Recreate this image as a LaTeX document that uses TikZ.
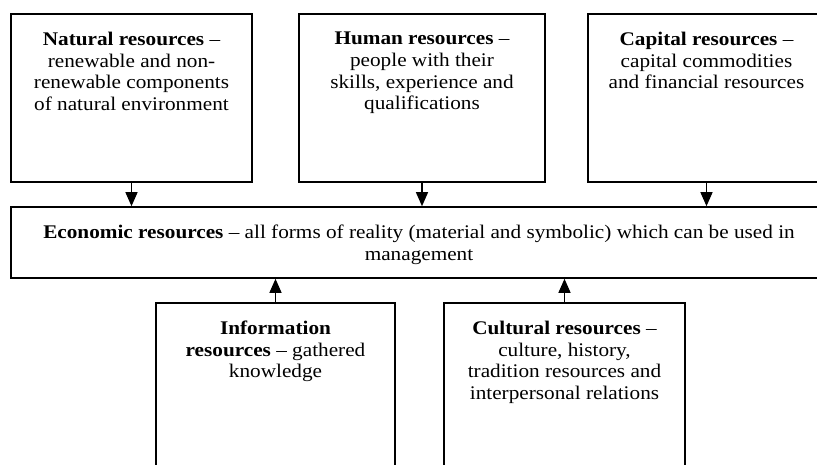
\documentclass[tikz,border=0pt]{standalone}
\usepackage{fontspec}
\setmainfont{Liberation Serif}[FakeStretch=1.1]
\usetikzlibrary{arrows.meta}

\newcommand{\restext}[3]{\parbox[c][#1][t]{#2}{\centering\vspace*{18pt}#3}}

\tikzset{
	resbox/.style={draw, line width=1.6pt, inner sep=0pt, font=\fontsize{19.3pt}{21.7pt}\selectfont},
	resarrow/.style={-{Triangle[length=14pt,width=12pt]}, line width=1.3pt}
}

\begin{document}
\begin{tikzpicture}[x=1pt, y=-1pt]
	\useasboundingbox (0,0) rectangle (817,465);
	\clip (0,0) rectangle (817,465);
	\node[resbox] (natural) at (131.5,98) {\restext{168pt}{241pt}{\textbf{Natural resources} --\\ renewable and non-\\ renewable components\\ of natural environment}};
	\node[resbox] (human) at (422,98) {\restext{168pt}{246pt}{\textbf{Human resources} --\\ people with their\\ skills, experience and\\ qualifications}};
	\node[resbox] (capital) at (706.5,98) {\restext{168pt}{237pt}{\textbf{Capital resources} --\\ capital commodities\\ and financial resources}};
	\node[resbox] (economic) at (419,242.5) {\restext{71pt}{816pt}{\textbf{Economic resources} -- all forms of reality (material and symbolic) which can be used in\\ management}};
	\node[resbox] (information) at (275.5,387) {\restext{168pt}{239pt}{\textbf{Information}\\ \textbf{resources} -- gathered\\ knowledge}};
	\node[resbox] (cultural) at (564.5,387) {\restext{168pt}{241pt}{\textbf{Cultural resources} --\\ culture, history,\\ tradition resources and\\ interpersonal relations}};
	\draw[resarrow] (natural.south) -- (natural.south |- economic.north);
	\draw[resarrow] (human.south) -- (human.south |- economic.north);
	\draw[resarrow] (capital.south) -- (capital.south |- economic.north);
	\draw[resarrow] (information.north) -- (information.north |- economic.south);
	\draw[resarrow] (cultural.north) -- (cultural.north |- economic.south);
\end{tikzpicture}
\end{document}
